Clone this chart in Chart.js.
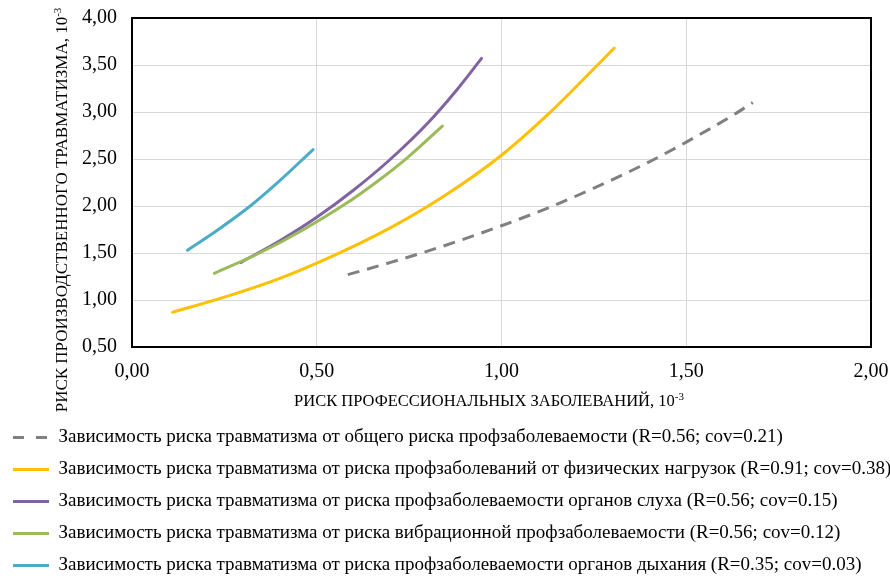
<!DOCTYPE html>
<html>
<head>
<meta charset="utf-8">
<script src="https://cdn.jsdelivr.net/npm/chart.js@4.4.1/dist/chart.umd.min.js"></script>
<style>
  html, body { margin: 0; padding: 0; background: #fff; }
  #wrap { width: 890px; height: 582px; position: relative; }
</style>
</head>
<body>
<div id="wrap"><canvas id="c" width="890" height="582"></canvas></div>
<script>
// ---- data ----
const seriesNames = [
  'Зависимость риска травматизма от общего риска профзаболеваемости (R=0.56; cov=0.21)',
  'Зависимость риска травматизма от риска профзаболеваний от физических нагрузок (R=0.91; cov=0.38)',
  'Зависимость риска травматизма от риска профзаболеваемости органов слуха (R=0.56; cov=0.15)',
  'Зависимость риска травматизма от риска вибрационной профзаболеваемости (R=0.56; cov=0.12)',
  'Зависимость риска травматизма от риска профзаболеваемости органов дыхания (R=0.35; cov=0.03)'
];
const grayX   = [0.584, 0.70, 0.80, 0.90, 1.00, 1.12, 1.25, 1.40, 1.50, 1.62, 1.68];
const grayY   = [1.27, 1.40, 1.52, 1.65, 1.79, 1.97, 2.19, 2.47, 2.68, 2.95, 3.10];
const yellowX = [0.11, 0.25, 0.40, 0.55, 0.70, 0.85, 1.00, 1.13, 1.26, 1.305];
const yellowY = [0.87, 1.03, 1.23, 1.48, 1.77, 2.12, 2.54, 2.99, 3.50, 3.68];
const purpleX = [0.295, 0.40, 0.50, 0.60, 0.70, 0.80, 0.88, 0.946];
const purpleY = [1.40, 1.63, 1.88, 2.17, 2.50, 2.88, 3.24, 3.57];
const greenX  = [0.223, 0.345, 0.46, 0.577, 0.66, 0.744, 0.84];
const greenY  = [1.284, 1.50, 1.74, 2.02, 2.25, 2.51, 2.85];
const cyanX   = [0.15, 0.23, 0.32, 0.40, 0.49];
const cyanY   = [1.53, 1.74, 2.00, 2.27, 2.60];
const xTickLabels = ['0,00', '0,50', '1,00', '1,50', '2,00'];
const yTickLabels = ['0,50', '1,00', '1,50', '2,00', '2,50', '3,00', '3,50', '4,00'];
const xTitle = 'РИСК ПРОФЕССИОНАЛЬНЫХ ЗАБОЛЕВАНИЙ, 10';
const yTitle = 'РИСК ПРОИЗВОДСТВЕННОГО ТРАВМАТИЗМА, 10';
const titleSup = '-3';

const SERIF = '"Liberation Serif", "Times New Roman", serif';
const pts = (xs, ys) => xs.map((x, i) => ({ x: x, y: ys[i] }));

function ds(label, xs, ys, color, extra) {
  return Object.assign({
    label: label,
    data: pts(xs, ys),
    borderColor: color,
    backgroundColor: color,
    borderWidth: 3,
    borderCapStyle: 'round',
    pointRadius: 0,
    pointHoverRadius: 0,
    cubicInterpolationMode: 'monotone',
    fill: false,
    order: 0
  }, extra || {});
}

const data = {
  datasets: [
    ds(seriesNames[0], grayX, grayY, '#808080', { borderDash: [12, 8], borderCapStyle: 'butt' }),
    ds(seriesNames[1], yellowX, yellowY, '#FFC000'),
    ds(seriesNames[2], purpleX, purpleY, '#8064A2', { order: 1 }),
    ds(seriesNames[3], greenX, greenY, '#9BBB59'),
    ds(seriesNames[4], cyanX, cyanY, '#4BACC6')
  ]
};

function drawSupText(ctx, main, sup, mainFont, supFont, raise) {
  ctx.font = mainFont;
  const w1 = ctx.measureText(main).width;
  ctx.font = supFont;
  const w2 = ctx.measureText(sup).width;
  const total = w1 + w2;
  let x = -total / 2;
  ctx.textAlign = 'left';
  ctx.textBaseline = 'alphabetic';
  ctx.font = mainFont;
  ctx.fillText(main, x, 0);
  ctx.font = supFont;
  ctx.fillText(sup, x + w1, -raise);
}

const framePlugin = {
  id: 'frameAndTitles',
  afterDraw(chart) {
    const { ctx, chartArea: a } = chart;
    ctx.save();
    ctx.strokeStyle = '#000';
    ctx.lineWidth = 2;
    ctx.strokeRect(a.left, a.top, a.right - a.left, a.bottom - a.top);
    ctx.fillStyle = '#000';
    // x-axis title
    ctx.save();
    ctx.translate(489, 406);
    drawSupText(ctx, xTitle, titleSup, '16.5px ' + SERIF, '11px ' + SERIF, 6);
    ctx.restore();
    // y-axis title
    ctx.save();
    ctx.translate(67, 210);
    ctx.rotate(-Math.PI / 2);
    drawSupText(ctx, yTitle, titleSup, '17px ' + SERIF, '11px ' + SERIF, 6);
    ctx.restore();
    ctx.restore();
  }
};

new Chart(document.getElementById('c'), {
  type: 'line',
  data: data,
  plugins: [framePlugin],
  options: {
    responsive: false,
    animation: false,
    events: [],
    layout: { padding: { top: 0, right: 0, left: 0, bottom: -3 } },
    scales: {
      x: {
        type: 'linear',
        min: 0, max: 2,
        ticks: {
          stepSize: 0.5,
          autoSkip: false,
          maxRotation: 0,
          padding: 13,
          color: '#000',
          font: { family: SERIF, size: 20 },
          callback: (v, i) => xTickLabels[i]
        },
        grid: { color: '#d9d9d9', lineWidth: 1, drawTicks: false },
        border: { display: false },
        afterFit: (s) => { s.height = 68; s.paddingLeft = 0; s.paddingRight = 19; }
      },
      y: {
        type: 'linear',
        min: 0.5, max: 4,
        ticks: {
          stepSize: 0.5,
          autoSkip: false,
          padding: 15,
          color: '#000',
          font: { family: SERIF, size: 20 },
          callback: (v, i) => yTickLabels[i]
        },
        grid: { color: '#d9d9d9', lineWidth: 1, drawTicks: false },
        border: { display: false },
        afterFit: (s) => { s.width = 132; s.paddingTop = 18; s.paddingBottom = 0; }
      }
    },
    plugins: {
      tooltip: { enabled: false },
      legend: {
        position: 'bottom',
        align: 'start',
        labels: {
          usePointStyle: true,
          pointStyle: 'line',
          pointStyleWidth: 36,
          padding: 13,
          color: '#000',
          font: { family: SERIF, size: 19 },
          sort: (a, b) => a.datasetIndex - b.datasetIndex,
          generateLabels: (chart) => {
            const items = Chart.defaults.plugins.legend.labels.generateLabels(chart);
            items.forEach(it => {
              it.pointStyle = 'line';
              if (it.datasetIndex === 0) it.lineDash = [11, 12];
            });
            return items;
          }
        }
      }
    }
  }
});
</script>
</body>
</html>
